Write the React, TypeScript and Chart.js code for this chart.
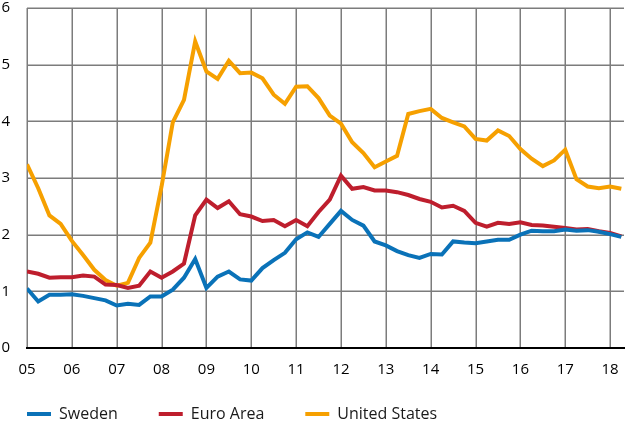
import { useEffect, useRef } from "react";
import { Chart, registerables } from "chart.js";

Chart.register(...registerables);

// Quarterly categories 2005Q1 .. 2018Q2
const quarters: string[] = [];
for (let y = 2005; y <= 2018; y++) {
  for (let q = 1; q <= 4; q++) {
    if (y === 2018 && q > 2) continue;
    quarters.push(`${y}Q${q}`);
  }
}

const sweden = [
  1.05, 0.82, 0.94, 0.94,
  0.95, 0.92, 0.88, 0.84,
  0.75, 0.78, 0.76, 0.91,
  0.91, 1.03, 1.24, 1.57,
  1.06, 1.26, 1.35, 1.21,
  1.19, 1.41, 1.55, 1.68,
  1.92, 2.04, 1.96, 2.19,
  2.42, 2.26, 2.16, 1.88,
  1.81, 1.71, 1.64, 1.59,
  1.66, 1.65, 1.88, 1.86,
  1.85, 1.88, 1.91, 1.91,
  2.0, 2.07, 2.06, 2.06,
  2.09, 2.07, 2.08, 2.05,
  2.01, 1.96,
];

const euroArea = [
  1.35, 1.31, 1.24, 1.25,
  1.25, 1.28, 1.26, 1.12,
  1.11, 1.06, 1.1, 1.35,
  1.24, 1.35, 1.49, 2.34,
  2.62, 2.47, 2.59, 2.36,
  2.32, 2.24, 2.26, 2.15,
  2.26, 2.15, 2.4, 2.62,
  3.04, 2.81, 2.84, 2.78,
  2.78, 2.75, 2.7, 2.63,
  2.58, 2.48, 2.51, 2.42,
  2.21, 2.14, 2.21, 2.19,
  2.22, 2.17, 2.16, 2.14,
  2.12, 2.09, 2.1, 2.06,
  2.03, 1.97,
];

const unitedStates = [
  3.24, 2.82, 2.34, 2.19,
  1.89, 1.64, 1.38, 1.2,
  1.1, 1.15, 1.59, 1.86,
  2.85, 3.98, 4.38, 5.41,
  4.88, 4.75, 5.07, 4.85,
  4.86, 4.76, 4.47, 4.31,
  4.61, 4.62, 4.41, 4.1,
  3.96, 3.63, 3.44, 3.19,
  3.29, 3.39, 4.13, 4.18,
  4.22, 4.06, 3.98, 3.91,
  3.69, 3.66, 3.84, 3.74,
  3.51, 3.34, 3.21, 3.31,
  3.5, 2.98, 2.85, 2.82,
  2.85, 2.81,
];

const seriesNames = ["Sweden", "Euro Area", "United States"];
const seriesColors = ["#0a72b8", "#be1e2d", "#f6a000"];
const yTicks = [0, 1, 2, 3, 4, 5, 6];

const FONT = "'Open Sans', 'Noto Sans', sans-serif";
const LEGEND_PAD = 41;
const GRID_COLOR = "#7c7c7c";

function toX(label: string): number {
  const [y, q] = label.split("Q");
  return Number(y) + (Number(q) - 1) / 4;
}

// Places the legend row (first box at x=27, text centred at y=414)
const legendPlacement = {
  id: "legendPlacement",
  afterLayout(chart: any) {
    const lg = chart.legend;
    if (!lg) return;
    lg.left = 27 - LEGEND_PAD;
    lg.top = 414 - LEGEND_PAD - 8;
  },
};

// Grid lines at every tick of both scales, drawn under the series
const tickGrid = {
  id: "tickGrid",
  beforeDatasetsDraw(chart: any) {
    const { ctx, chartArea: a, scales } = chart;
    const sx = scales.x;
    const sy = scales.y;
    ctx.save();
    ctx.globalCompositeOperation = "source-over";
    ctx.globalAlpha = 1;
    ctx.setLineDash([]);
    ctx.lineCap = "butt";
    ctx.strokeStyle = GRID_COLOR;
    ctx.lineWidth = 1.5;
    ctx.beginPath();
    sx.ticks.forEach((t: any) => {
      const px = Math.round(sx.getPixelForValue(t.value)) + 0.25;
      ctx.moveTo(px, a.top);
      ctx.lineTo(px, a.bottom);
    });
    sy.ticks.forEach((t: any) => {
      const py = Math.round(sy.getPixelForValue(t.value)) + 0.25;
      ctx.moveTo(a.left, py);
      ctx.lineTo(a.right, py);
    });
    ctx.stroke();
    ctx.restore();
  },
};

export default function App() {
  const ref = useRef<HTMLCanvasElement | null>(null);

  useEffect(() => {
    document.body.style.margin = "0";
    if (!ref.current) return;
    const all = [sweden, euroArea, unitedStates];
    const chart = new Chart(ref.current, {
      type: "line",
      data: {
        datasets: all.map((vals, k) => ({
          label: seriesNames[k],
          data: quarters.map((q, i) => ({ x: toX(q), y: vals[i] })),
          borderColor: seriesColors[k],
          backgroundColor: seriesColors[k],
          borderWidth: 4,
          pointRadius: 0,
          tension: 0,
          fill: false,
        })),
      },
      plugins: [legendPlacement, tickGrid],
      options: {
        responsive: false,
        animation: false,
        devicePixelRatio: 1,
        layout: { padding: { top: 0, right: 1, left: 0, bottom: 0 } },
        plugins: {
          tooltip: { enabled: false },
          legend: {
            position: "bottom",
            align: "start",
            maxHeight: 45,
            labels: {
              boxWidth: 24,
              boxHeight: 4,
              padding: LEGEND_PAD,
              color: "#1a1a1a",
              font: { family: FONT, size: 16 },
              generateLabels: (c: any) =>
                (Chart.defaults.plugins.legend.labels as any)
                  .generateLabels(c)
                  .map((l: any) => ({ ...l, lineWidth: 0, fillStyle: l.strokeStyle })),
            },
          },
        },
        scales: {
          x: {
            type: "linear",
            min: 2005,
            max: 2018.31,
            afterFit: (s: any) => {
              s.height = 30;
              s.paddingLeft = 0;
              s.paddingRight = 0;
            },
            grid: { display: false },
            border: { display: true, color: "#000", width: 2, z: 1 },
            ticks: {
              stepSize: 1,
              includeBounds: false,
              autoSkip: false,
              maxRotation: 0,
              padding: 5,
              color: "#000",
              font: { family: FONT, size: 15 },
              callback: (v: any) =>
                Number.isInteger(v) ? String(v % 100).padStart(2, "0") : "",
            },
          },
          y: {
            min: 0,
            max: 6,
            afterFit: (s: any) => {
              s.width = 27;
              s.paddingTop = 8;
              s.paddingBottom = 0;
            },
            afterBuildTicks: (s: any) => {
              s.ticks = yTicks.map((v) => ({ value: v }));
            },
            grid: { display: false },
            border: { display: false },
            ticks: {
              padding: 9,
              color: "#000",
              font: { family: FONT, size: 15, lineHeight: 1.1 },
            },
          },
        },
      },
    } as any);
    return () => chart.destroy();
  }, []);

  return <canvas ref={ref} width={625} height={423} style={{ display: "block" }} />;
}
